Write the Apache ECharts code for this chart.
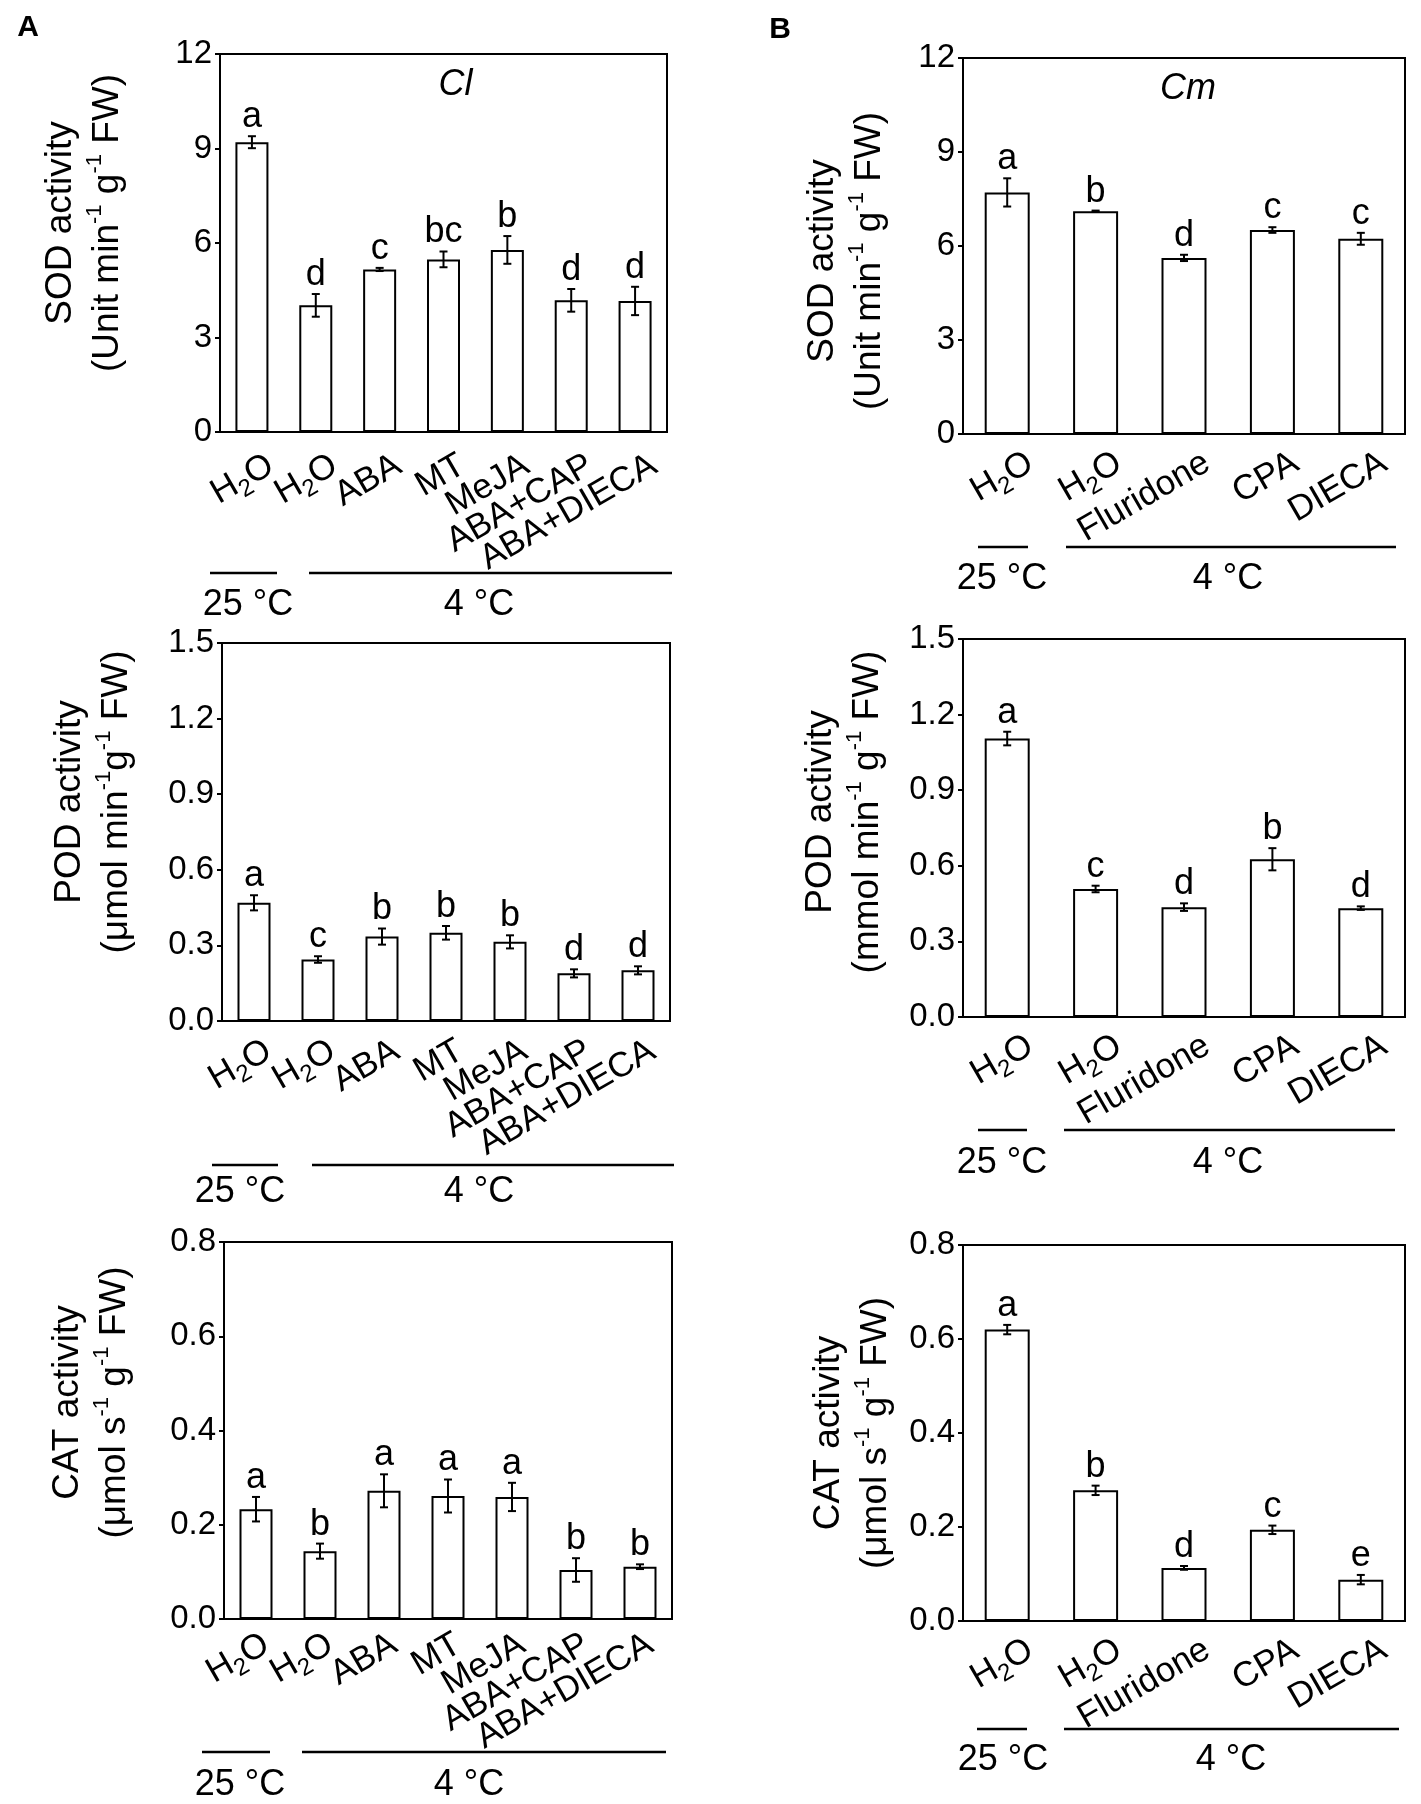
<!DOCTYPE html>
<html>
<head>
<meta charset="utf-8">
<script src="https://cdn.jsdelivr.net/npm/echarts@6/dist/echarts.min.js"></script>
<style>
html, body { margin: 0; padding: 0; background: #fff; }
#main { width: 1421px; height: 1804px; }
</style>
</head>
<body>
<div id="main"></div>
<script>
// categories
var catsA = ['H2O', 'H2O', 'ABA', 'MT', 'MeJA', 'ABA+CAP', 'ABA+DIECA'];
var catsB = ['H2O', 'H2O', 'Fluridone', 'CPA', 'DIECA'];
var groupLabels = ['25 °C', '4 °C'];

// tick labels
var sodTicks = ['0', '3', '6', '9', '12'];
var podTicks = ['0.0', '0.3', '0.6', '0.9', '1.2', '1.5'];
var catTicks = ['0.0', '0.2', '0.4', '0.6', '0.8'];

// A - Cl
var sodA = [9.20, 4.02, 5.16, 5.48, 5.78, 4.18, 4.16];
var sodAErr = [0.19, 0.36, 0.05, 0.25, 0.44, 0.36, 0.45];
var sodALetters = ['a', 'd', 'c', 'bc', 'b', 'd', 'd'];
var podA = [0.469, 0.244, 0.335, 0.350, 0.314, 0.189, 0.201];
var podAErr = [0.030, 0.013, 0.032, 0.027, 0.026, 0.016, 0.016];
var podALetters = ['a', 'c', 'b', 'b', 'b', 'd', 'd'];
var catA = [0.233, 0.144, 0.272, 0.261, 0.259, 0.104, 0.111];
var catAErr = [0.026, 0.016, 0.035, 0.035, 0.030, 0.025, 0.005];
var catALetters = ['a', 'b', 'a', 'a', 'a', 'b', 'b'];

// B - Cm
var sodB = [7.71, 7.11, 5.62, 6.51, 6.23];
var sodBErr = [0.45, 0.02, 0.10, 0.09, 0.19];
var sodBLetters = ['a', 'b', 'd', 'c', 'c'];
var podB = [1.105, 0.508, 0.436, 0.626, 0.432];
var podBErr = [0.027, 0.013, 0.015, 0.044, 0.007];
var podBLetters = ['a', 'c', 'd', 'b', 'd'];
var catB = [0.620, 0.278, 0.113, 0.194, 0.088];
var catBErr = [0.010, 0.010, 0.004, 0.009, 0.010];
var catBLetters = ['a', 'b', 'd', 'c', 'e'];

// axis titles
var titleSod = 'SOD activity\n(Unit min{s|-1} g{s|-1} FW)';
var titlePodA = 'POD activity\n(μmol min{s|-1}g{s|-1} FW)';
var titlePodB = 'POD activity\n(mmol min{s|-1} g{s|-1} FW)';
var titleCat = 'CAT activity\n(μmol s{s|-1} g{s|-1} FW)';

var font = "'Liberation Sans', Arial, sans-serif";

// per panel layout: grid box, x label margin/shift, name offset (+ = up),
// temperature bars/labels relative to grid left / bottom
var panels = [
    { left: 220, width: 447, top: 54, height: 378, barWidth: 33, margin: 42, shift: 22,
      cats: catsA, mean: sodA, err: sodAErr, letters: sodALetters, ticks: sodTicks, title: titleSod,
      nameGap: 89, nameShift: 20, line25: [-10, 57], line4: [89, 452], text25: 28, text4: 259, lineGap: 141, textGap: 173, tag: 'Cl', tagX: 12 },
    { left: 222, width: 448, top: 643, height: 378, barWidth: 33, margin: 36, shift: 17,
      cats: catsA, mean: podA, err: podAErr, letters: podALetters, ticks: podTicks, title: titlePodA,
      nameGap: 82, nameShift: 30, line25: [-10, 56], line4: [90, 452], text25: 18, text4: 257, lineGap: 144, textGap: 171 },
    { left: 224, width: 448, top: 1242, height: 377, barWidth: 33, margin: 29, shift: 12,
      cats: catsA, mean: catA, err: catAErr, letters: catALetters, ticks: catTicks, title: titleCat,
      nameGap: 86, nameShift: 28, line25: [-22, 46], line4: [78, 442], text25: 16, text4: 245, lineGap: 133, textGap: 166 },
    { left: 963, width: 442, top: 58, height: 376, barWidth: 45, margin: 40, shift: 27,
      cats: catsB, mean: sodB, err: sodBErr, letters: sodBLetters, ticks: sodTicks, title: titleSod,
      nameGap: 70, nameShift: -15, line25: [15, 65], line4: [103, 433], text25: 39, text4: 265, lineGap: 113, textGap: 145, tag: 'Cm', tagX: 4 },
    { left: 963, width: 442, top: 639, height: 378, barWidth: 45, margin: 40, shift: 27,
      cats: catsB, mean: podB, err: podBErr, letters: podBLetters, ticks: podTicks, title: titlePodB,
      nameGap: 72, nameShift: 16, line25: [15, 64], line4: [101, 432], text25: 39, text4: 265, lineGap: 113, textGap: 146 },
    { left: 963, width: 442, top: 1245, height: 376, barWidth: 45, margin: 40, shift: 27,
      cats: catsB, mean: catB, err: catBErr, letters: catBLetters, ticks: catTicks, title: titleCat,
      nameGap: 64, nameShift: 0, line25: [14, 64], line4: [101, 436], text25: 40, text4: 268, lineGap: 108, textGap: 139 }
];

function catLabel(name) {
    if (name === 'H2O') return '{n|H}{b|2}{n|O}';
    return '{n|' + name + '}';
}

function errorRender(letters) {
    return function (params, api) {
        var x = api.value(0), m = api.value(1), e = api.value(2);
        var hi = api.coord([x, m + e]);
        var lo = api.coord([x, m - e]);
        var cap = 4;
        var st = { stroke: '#000', lineWidth: 2 };
        return {
            type: 'group',
            children: [
                { type: 'line', shape: { x1: hi[0], y1: hi[1], x2: lo[0], y2: lo[1] }, style: st },
                { type: 'line', shape: { x1: hi[0] - cap, y1: hi[1], x2: hi[0] + cap, y2: hi[1] }, style: st },
                { type: 'line', shape: { x1: lo[0] - cap, y1: lo[1], x2: lo[0] + cap, y2: lo[1] }, style: st },
                {
                    type: 'text', x: hi[0], y: hi[1] - 1,
                    style: { text: letters[params.dataIndex], fontSize: 36, fontFamily: font, fill: '#000', align: 'center', verticalAlign: 'bottom' }
                }
            ]
        };
    };
}

var option = { animation: false, backgroundColor: '#fff', grid: [], xAxis: [], yAxis: [], series: [], graphic: [] };

panels.forEach(function (p, k) {
    var ticks = p.ticks;
    var dec = ticks[0].indexOf('.') >= 0 ? ticks[0].split('.')[1].length : 0;
    var min = parseFloat(ticks[0]);
    var max = parseFloat(ticks[ticks.length - 1]);
    var step = parseFloat(ticks[1]) - min;
    // padding moves the rotated name along the axis
    var namePad = p.nameShift >= 0 ? [0, 0, 0, 2 * p.nameShift] : [0, -2 * p.nameShift, 0, 0];

    option.grid.push({
        left: p.left, top: p.top, width: p.width, height: p.height,
        show: true, borderColor: '#000', borderWidth: 2, backgroundColor: 'transparent',
        containLabel: false, outerBoundsMode: 'none'
    });

    option.xAxis.push({
        type: 'category', gridIndex: k, data: p.cats, z: 5,
        axisLine: { lineStyle: { color: '#000', width: 2 } },
        axisTick: { inside: true, alignWithLabel: true, interval: 0, length: 6, lineStyle: { color: '#000', width: 2 } },
        axisLabel: {
            interval: 0, rotate: 30, margin: p.margin, color: '#000',
            fontFamily: font, fontSize: 35, padding: [0, -p.shift, 0, 0],
            formatter: function (v, i) { return catLabel(p.cats[i]); },
            rich: {
                n: { fontSize: 35, fontFamily: font, color: '#000', lineHeight: 44 },
                b: { fontSize: 24, fontFamily: font, color: '#000', verticalAlign: 'bottom', lineHeight: 22 }
            }
        },
        splitLine: { show: false }
    });

    option.yAxis.push({
        type: 'value', gridIndex: k, min: min, max: max, interval: step,
        name: p.title, nameLocation: 'middle', nameRotate: 90, nameGap: p.nameGap,
        nameTextStyle: {
            fontSize: 37, fontFamily: font, color: '#000', lineHeight: 47, padding: namePad,
            rich: { s: { fontSize: 22, fontFamily: font, color: '#000', verticalAlign: 'top', lineHeight: 22 } }
        },
        axisLine: { show: true, lineStyle: { color: '#000', width: 2 } },
        axisTick: { show: true, inside: false, length: 5, lineStyle: { color: '#000', width: 2 } },
        axisLabel: {
            margin: 8, color: '#000', fontFamily: font, fontSize: 33,
            formatter: function (v) { return v.toFixed(dec); }
        },
        splitLine: { show: false }
    });

    option.series.push({
        type: 'bar', xAxisIndex: k, yAxisIndex: k, data: p.mean,
        barWidth: p.barWidth,
        itemStyle: { color: 'rgba(255,255,255,0)', borderColor: '#000', borderWidth: 2 },
        z: 2
    });

    option.series.push({
        type: 'custom', xAxisIndex: k, yAxisIndex: k,
        data: p.mean.map(function (m, i) { return [i, m, p.err[i]]; }),
        renderItem: errorRender(p.letters),
        z: 3
    });

    // temperature groups under the axis
    var bottom = p.top + p.height;
    var yLine = bottom + p.lineGap;
    var yText = bottom + p.textGap;
    var lineStyle = { stroke: '#000', lineWidth: 2.5 };
    var textStyle = { fontSize: 36, fontFamily: font, fill: '#000', align: 'center', verticalAlign: 'middle' };
    option.graphic.push(
        { type: 'line', shape: { x1: p.left + p.line25[0], y1: yLine, x2: p.left + p.line25[1], y2: yLine }, style: lineStyle },
        { type: 'line', shape: { x1: p.left + p.line4[0], y1: yLine, x2: p.left + p.line4[1], y2: yLine }, style: lineStyle },
        { type: 'text', x: p.left + p.text25, y: yText, style: Object.assign({ text: groupLabels[0] }, textStyle) },
        { type: 'text', x: p.left + p.text4, y: yText, style: Object.assign({ text: groupLabels[1] }, textStyle) }
    );

    if (p.tag) {
        option.graphic.push({
            type: 'text', x: p.left + p.width / 2 + p.tagX, y: p.top + 31,
            style: { text: p.tag, fontSize: 36, fontStyle: 'italic', fontFamily: font, fill: '#000', align: 'center', verticalAlign: 'middle' }
        });
    }
});

// panel letters
option.graphic.push(
    { type: 'text', x: 28, y: 28, style: { text: 'A', fontSize: 30, fontWeight: 'bold', fontFamily: font, fill: '#000', align: 'center', verticalAlign: 'middle' } },
    { type: 'text', x: 780, y: 30, style: { text: 'B', fontSize: 30, fontWeight: 'bold', fontFamily: font, fill: '#000', align: 'center', verticalAlign: 'middle' } }
);

var myChart = echarts.init(document.getElementById('main'));
myChart.setOption(option);
</script>
</body>
</html>
